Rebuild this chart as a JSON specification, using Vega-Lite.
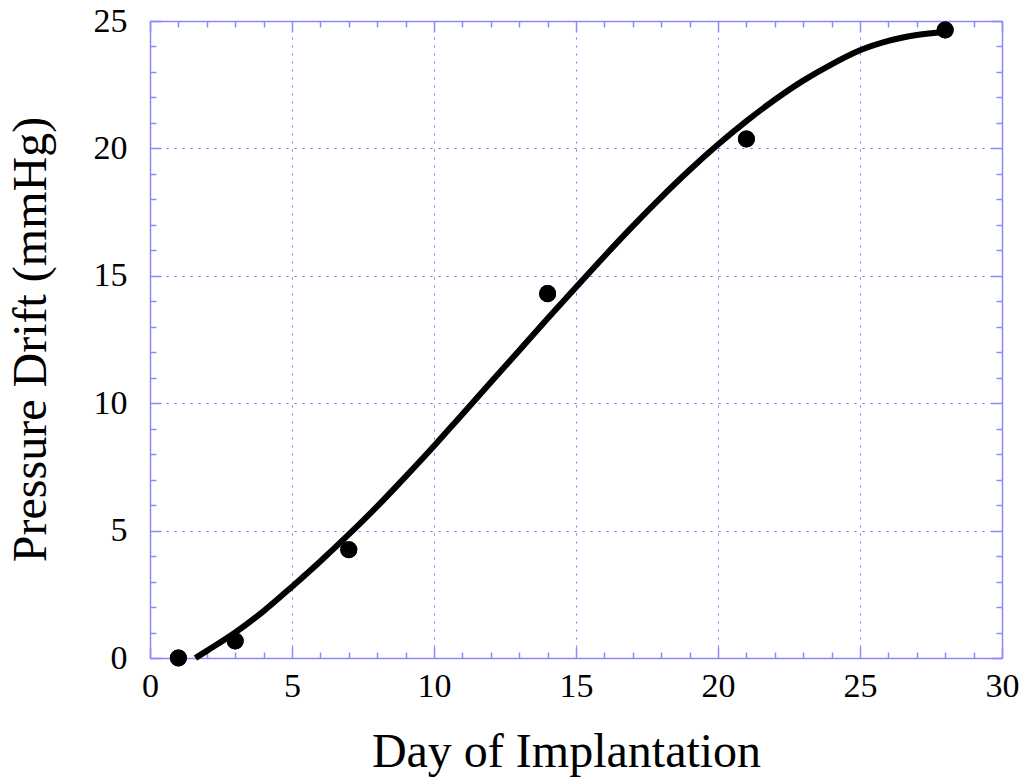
{
  "$schema": "https://vega.github.io/schema/vega-lite/v6.json",
  "description": "Pressure drift over days of implantation, measured points with fitted curve.",
  "width": 852,
  "height": 637,
  "autosize": {"type": "none"},
  "padding": {"left": 150, "top": 21, "right": 22, "bottom": 124},
  "background": "white",
  "config": {
    "view": {"stroke": null},
    "axis": {
      "labelFont": "Liberation Serif",
      "titleFont": "Liberation Serif",
      "labelColor": "black",
      "titleColor": "black",
      "titleFontWeight": "normal",
      "domainColor": "#8a8aff",
      "domainWidth": 1.5,
      "tickColor": "#8a8aff",
      "tickWidth": 1.5,
      "gridColor": "#7070ff",
      "gridDash": [2, 6],
      "gridWidth": 1
    }
  },
  "datasets": {
    "measured": [
      {"day": 1, "drift": 0},
      {"day": 3, "drift": 0.67},
      {"day": 7, "drift": 4.25},
      {"day": 14, "drift": 14.3},
      {"day": 21, "drift": 20.37},
      {"day": 28, "drift": 24.65}
    ],
    "fit": [
      {"day": 1.6, "drift": 0.0},
      {"day": 2, "drift": 0.28},
      {"day": 3, "drift": 1.0},
      {"day": 4, "drift": 1.84},
      {"day": 5, "drift": 2.8},
      {"day": 6, "drift": 3.8},
      {"day": 7, "drift": 4.85},
      {"day": 8, "drift": 5.95},
      {"day": 9, "drift": 7.12},
      {"day": 10, "drift": 8.32},
      {"day": 11, "drift": 9.57},
      {"day": 12, "drift": 10.82},
      {"day": 13, "drift": 12.07},
      {"day": 14, "drift": 13.32},
      {"day": 15, "drift": 14.55},
      {"day": 16, "drift": 15.77},
      {"day": 17, "drift": 16.95},
      {"day": 18, "drift": 18.08},
      {"day": 19, "drift": 19.15},
      {"day": 20, "drift": 20.15},
      {"day": 21, "drift": 21.07},
      {"day": 22, "drift": 21.91},
      {"day": 23, "drift": 22.66},
      {"day": 24, "drift": 23.3},
      {"day": 25, "drift": 23.85},
      {"day": 26, "drift": 24.22},
      {"day": 27, "drift": 24.45},
      {"day": 28, "drift": 24.57}
    ]
  },
  "resolve": {"axis": {"x": "independent", "y": "independent"}},
  "layer": [
    {
      "data": {"name": "fit"},
      "mark": {"type": "line", "color": "black", "strokeWidth": 6, "interpolate": "monotone", "strokeCap": "butt"},
      "encoding": {
        "x": {
          "field": "day",
          "type": "quantitative",
          "scale": {"domain": [0, 30], "nice": false, "zero": false},
          "axis": {
            "orient": "top",
            "title": null,
            "labels": false,
            "grid": false,
            "values": [0, 1, 2, 3, 4, 5, 6, 7, 8, 9, 10, 11, 12, 13, 14, 15, 16, 17, 18, 19, 20, 21, 22, 23, 24, 25, 26, 27, 28, 29, 30],
            "tickSize": {"condition": {"test": "datum.value % 5 === 0", "value": -11}, "value": -6}
          }
        },
        "y": {
          "field": "drift",
          "type": "quantitative",
          "scale": {"domain": [0, 25], "nice": false},
          "axis": {
            "orient": "right",
            "title": null,
            "labels": false,
            "grid": false,
            "values": [0, 1, 2, 3, 4, 5, 6, 7, 8, 9, 10, 11, 12, 13, 14, 15, 16, 17, 18, 19, 20, 21, 22, 23, 24, 25],
            "tickSize": {"condition": {"test": "datum.value % 5 === 0", "value": -11}, "value": -6}
          }
        }
      }
    },
    {
      "data": {"name": "measured"},
      "mark": {"type": "point", "filled": true, "color": "black", "opacity": 1, "size": 290},
      "encoding": {
        "x": {
          "field": "day",
          "type": "quantitative",
          "axis": {
            "orient": "bottom",
            "title": null,
            "labels": false,
            "grid": false,
            "domain": false,
            "values": [0, 1, 2, 3, 4, 5, 6, 7, 8, 9, 10, 11, 12, 13, 14, 15, 16, 17, 18, 19, 20, 21, 22, 23, 24, 25, 26, 27, 28, 29, 30],
            "tickSize": {"condition": {"test": "datum.value % 5 === 0", "value": -11}, "value": -6}
          }
        },
        "y": {
          "field": "drift",
          "type": "quantitative",
          "axis": {
            "orient": "left",
            "title": null,
            "labels": false,
            "grid": false,
            "domain": false,
            "values": [0, 1, 2, 3, 4, 5, 6, 7, 8, 9, 10, 11, 12, 13, 14, 15, 16, 17, 18, 19, 20, 21, 22, 23, 24, 25],
            "tickSize": {"condition": {"test": "datum.value % 5 === 0", "value": -11}, "value": -6}
          }
        }
      }
    },
    {
      "data": {"name": "measured"},
      "mark": {"type": "point", "filled": true, "color": "black", "opacity": 1, "size": 290},
      "encoding": {
        "x": {
          "field": "day",
          "type": "quantitative",
          "axis": {
            "orient": "bottom",
            "title": "Day of Implantation",
            "titleFontSize": 48,
            "titleX": 416,
            "titleY": 108,
            "titleAnchor": null,
            "titleAlign": "center",
            "titleBaseline": "alphabetic",
            "values": [0, 5, 10, 15, 20, 25, 30],
            "ticks": false,
            "grid": true,
            "labelFontSize": 34,
            "labelBaseline": "alphabetic",
            "labelPadding": 38,
            "labelFlush": false
          }
        },
        "y": {
          "field": "drift",
          "type": "quantitative",
          "axis": {
            "orient": "left",
            "title": "Pressure Drift (mmHg)",
            "titleFontSize": 48,
            "titleX": -105,
            "titleY": 318,
            "titleAnchor": null,
            "titleAngle": -90,
            "titleAlign": "center",
            "titleBaseline": "alphabetic",
            "values": [0, 5, 10, 15, 20, 25],
            "ticks": false,
            "grid": true,
            "labelFontSize": 34,
            "labelPadding": 23,
            "labelFlush": false
          }
        }
      }
    }
  ]
}
